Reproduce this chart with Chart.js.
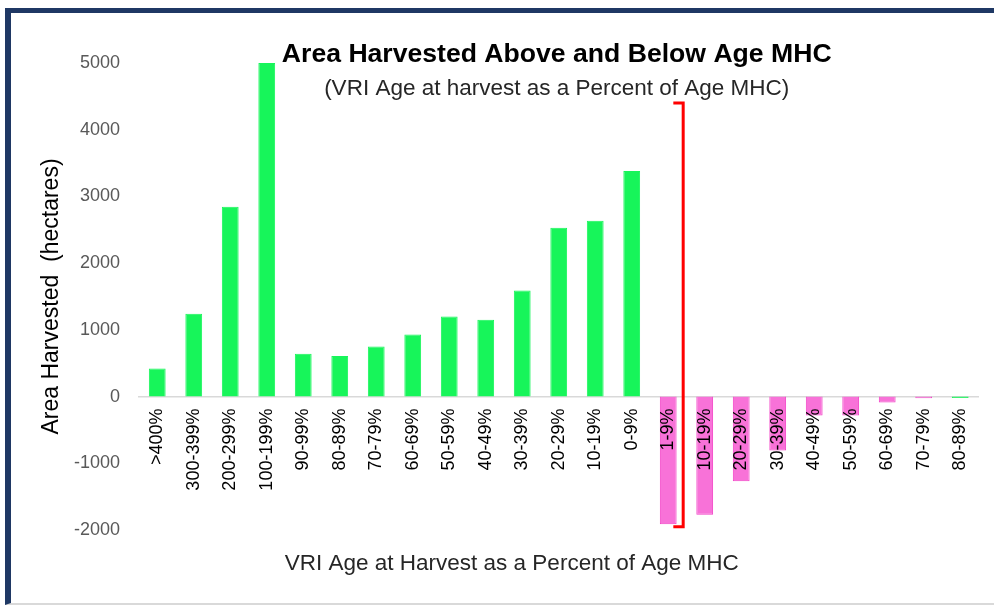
<!DOCTYPE html>
<html>
<head>
<meta charset="utf-8">
<script src="https://cdn.jsdelivr.net/npm/chart.js@4.4.1/dist/chart.umd.min.js"></script>
<style>
  html, body { margin:0; padding:0; background:#fff; overflow:hidden; }
  #wrap { position:absolute; left:0; top:0; width:994px; height:606px; }
  #frame { position:absolute; left:5px; top:8px; width:1000px; height:597px; box-sizing:border-box;
           border-top:5px solid #1f3864; border-left:6px solid #1f3864; border-bottom:2px solid #d9d9d9; pointer-events:none; }
  canvas { position:absolute; left:0; top:0; }
</style>
</head>
<body>
<div id="wrap"><canvas id="c" width="994" height="606"></canvas><div id="frame"></div></div>
<script>
// ---- data ----
const categories = [">400%", "300-399%", "200-299%", "100-199%", "90-99%", "80-89%", "70-79%", "60-69%",
  "50-59%", "40-49%", "30-39%", "20-29%", "10-19%", "0-9%",
  "1-9%", "10-19%", "20-29%", "30-39%", "40-49%", "50-59%", "60-69%", "70-79%", "80-89%"];
const areaHarvested = [420, 1240, 2845, 5000, 640, 610, 750, 930, 1200, 1150, 1590, 2530, 2635, 3380,
  -1915, -1770, -1270, -810, -285, -285, -90, -25, -20];
const groups = ["above","above","above","above","above","above","above","above","above","above","above","above","above","above",
  "below","below","below","below","below","below","below","below","above"];
const yTicks = [5000, 4000, 3000, 2000, 1000, 0, -1000, -2000];
const bracketCategory = 14;     // "1-9%" bar the red bracket sits beside
const bracketTop = 4400;
const bracketBottom = -1950;

const titleText = "Area Harvested Above and Below Age MHC";
const subtitleText = "(VRI Age at harvest as a Percent of Age MHC)";
const xTitleText = "VRI Age at Harvest as a Percent of Age MHC";
const yTitleText = "Area Harvested  (hectares)";

// ---- styles ----
const GREEN = "#17f55a", PINK = "#f872d8", PINK_BORDER = "#f23fc6";
const fillColors = groups.map(g => g === "above" ? GREEN : PINK);
const borderColors = groups.map(g => g === "above" ? GREEN : PINK_BORDER);
const FONT = "'Liberation Sans', Arial, sans-serif";

const overlay = {
  id: "overlay",
  afterDatasetsDraw(chart) {
    const {ctx, scales} = chart;
    const x = scales.x, y = scales.y;
    const cw = x.getPixelForValue(1) - x.getPixelForValue(0);
    const cx = x.getPixelForValue(bracketCategory);
    const xr = cx + cw * 0.41, xl = cx + cw * 0.14;
    const yt = y.getPixelForValue(bracketTop), yb = y.getPixelForValue(bracketBottom);
    ctx.save();
    ctx.strokeStyle = "#ff0000"; ctx.lineWidth = 3; ctx.lineJoin = "miter";
    ctx.beginPath(); ctx.moveTo(xl, yt); ctx.lineTo(xr, yt); ctx.lineTo(xr, yb); ctx.lineTo(xl, yb); ctx.stroke();
    ctx.restore();
  },
  afterDraw(chart) {
    const {ctx, chartArea} = chart;
    const mid = (chartArea.left + chartArea.right) / 2;
    ctx.save();
    ctx.textAlign = "center"; ctx.textBaseline = "middle";
    ctx.fillStyle = "#000";
    ctx.font = "bold 26.6px " + FONT;
    ctx.fillText(titleText, mid - 2, 55);
    ctx.fillStyle = "#262626";
    ctx.font = "22.5px " + FONT;
    ctx.fillText(subtitleText, mid - 2, 89);
    ctx.font = "22.5px " + FONT;
    ctx.fillText(xTitleText, mid - 47, 564);
    ctx.restore();
  }
};

new Chart(document.getElementById("c"), {
  type: "bar",
  data: {
    labels: categories,
    datasets: [{
      data: areaHarvested,
      backgroundColor: fillColors,
      borderColor: borderColors,
      borderWidth: 1,
      barPercentage: 0.46,
      categoryPercentage: 1.0
    }]
  },
  options: {
    responsive: false,
    animation: false,
    layout: { padding: { left: 0, right: 9, top: 63, bottom: 76 } },
    plugins: { legend: { display: false }, title: { display: false }, tooltip: { enabled: false } },
    scales: {
      x: {
        position: { y: 0 },
        grid: { display: false, drawTicks: false },
        border: { display: true, color: "#d9d9d9", width: 1.5, z: 0 },
        ticks: { z: 2, autoSkip: false, minRotation: 90, maxRotation: 90, padding: 12,
                 color: "#000", font: { family: FONT, size: 18 } }
      },
      y: {
        min: -2000, max: 5000,
        afterBuildTicks(scale) { scale.ticks = yTicks.map(v => ({ value: v })); },
        afterFit(scale) { scale.width = 139; },
        grid: { display: false, drawTicks: false },
        border: { display: false },
        ticks: { color: "#595959", padding: 19, font: { family: FONT, size: 18 },
                 callback: v => String(v) },
        title: { display: true, text: yTitleText, color: "#000", padding: { top: 38, bottom: 0 },
                 font: { family: FONT, size: 23 } }
      }
    }
  },
  plugins: [overlay]
});
</script>
</body>
</html>
